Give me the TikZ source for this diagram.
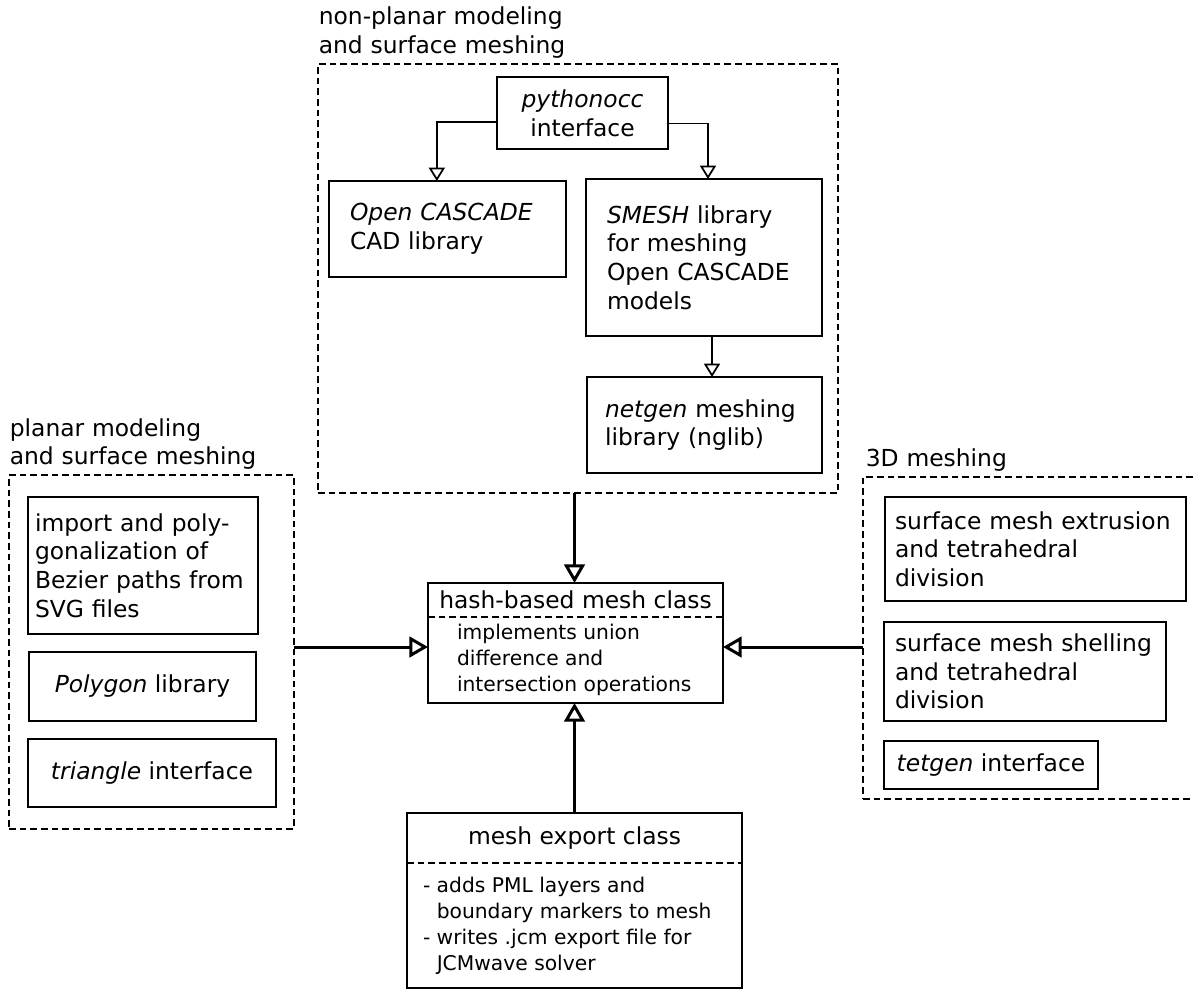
\documentclass[tikz,border=0pt]{standalone}
\usepackage{fontspec}
\setmainfont{DejaVu Sans}
\usetikzlibrary{arrows.meta}

\newcommand{\boxfont}{\fontsize{17.55pt}{21.5pt}\selectfont}
\newcommand{\notefont}{\fontsize{15.2pt}{19.5pt}\selectfont}

\tikzset{every picture/.style={line width=1.2pt}}
\tikzset{
  grp/.style={draw, line width=1pt, dash pattern=on 5pt off 3pt, anchor=north west, inner sep=0pt, outer sep=0pt},
  blk/.style={draw, anchor=north west, align=left, inner ysep=0pt, outer sep=0pt, font=\boxfont},
  cblk/.style={draw, anchor=north west, align=center, inner sep=0pt, outer sep=0pt, font=\boxfont},
  head/.style={anchor=north west, inner sep=0pt, outer sep=0pt, font=\boxfont},
  body/.style={anchor=north west, align=left, inner ysep=0pt, outer sep=0pt, font=\notefont},
  lbl/.style={anchor=base west, align=left, inner sep=0pt, text width=240pt, font=\boxfont},
  conn/.style={line width=1.3pt, -{Triangle[open, length=10pt, width=12pt]}},
  bigconn/.style={line width=2.25pt, -{Triangle[open, length=14pt, width=15.5pt]}},
}

\begin{document}
\begin{tikzpicture}[x=0.75pt,y=0.75pt,yscale=-1,xscale=1]
\useasboundingbox (0,0) rectangle (1194,991);

%Shape: Group frames
\node[grp, minimum width=390pt, minimum height=321.75pt] (topgrp) at (318,64) {};
\node[grp, minimum width=213.75pt, minimum height=265.5pt] (leftgrp) at (9,475) {};
\node[grp, minimum width=255pt, minimum height=241.5pt] (rightgrp) at (863,477) {};

% Text Node
\node[lbl] (toplbl) at (318,25) {non-planar modeling\\and surface meshing};
% Text Node
\node[lbl] (leftlbl) at (9,436) {planar modeling\\and surface meshing};
% Text Node
\node[lbl] (rightlbl) at (865,466) {3D meshing};

%Shape: Rectangle
\node[cblk, minimum width=128.25pt, minimum height=54pt] (pyocc) at (497,77) {\textit{pythonocc}\\interface};
%Shape: Rectangle
\node[blk, minimum width=177.75pt, minimum height=72pt, inner xsep=15.75pt, text width=146.25pt] (occ) at (329,181) {\textit{Open CASCADE}\\CAD library};
%Shape: Rectangle
\node[blk, minimum width=177pt, minimum height=117.75pt, inner xsep=15.75pt, text width=145.5pt] (smesh) at (586,179) {\textit{SMESH} library\\for meshing\\Open CASCADE\\models};
%Shape: Rectangle
\node[blk, minimum width=176.25pt, minimum height=72pt, inner xsep=13.5pt, text width=149.25pt] (netgen) at (587,377) {\textit{netgen} meshing\\library (nglib)};

%Shape: Rectangle
\node[blk, minimum width=172.5pt, minimum height=102.75pt, inner xsep=5.25pt, text width=162pt] (svgimp) at (28,497) {import and poly-\\gonalization of\\Bezier paths from\\SVG files};
%Shape: Rectangle
\node[cblk, minimum width=170.25pt, minimum height=51.75pt] (polylib) at (29,652) {\textit{Polygon} library};
%Shape: Rectangle
\node[cblk, minimum width=186pt, minimum height=51pt] (tri) at (28,739) {\textit{triangle} interface};

%Shape: Rectangle
\node[blk, minimum width=225.75pt, minimum height=78pt, inner xsep=7.5pt, text width=210.75pt] (extr) at (885,497) {surface mesh extrusion\\and tetrahedral\\division};
%Shape: Rectangle
\node[blk, minimum width=211.5pt, minimum height=74.25pt, inner xsep=8.25pt, text width=195pt] (shell) at (884,622) {surface mesh shelling\\and tetrahedral\\division};
%Shape: Rectangle
\node[cblk, minimum width=160.5pt, minimum height=36pt] (tetgen) at (884,741) {\textit{tetgen} interface};

%Shape: Class box (hash)
\node[head, minimum width=221.25pt, minimum height=25.5pt] (hashhd) at (428,583) {hash-based mesh class};
\node[body, inner xsep=21.75pt, minimum height=64.5pt] (hashbd) at (hashhd.south west) {implements union\\difference and\\intersection operations};
\draw (hashhd.north west) rectangle (hashhd.east |- hashbd.south);
\draw[line width=1pt, dash pattern=on 5pt off 3pt] (hashhd.south west) -- (hashhd.south east);

%Shape: Class box (export)
\node[head, minimum width=251.25pt, minimum height=37.5pt] (expthd) at (407,813) {mesh export class};
\node[body, inner xsep=12pt, minimum height=93.75pt] (exptbd) at (expthd.south west) {- adds PML layers and\\\phantom{- }boundary markers to mesh\\- writes .jcm export file for\\\phantom{- }JCMwave solver};
\draw (expthd.north west) rectangle (expthd.east |- exptbd.south);
\draw[line width=1pt, dash pattern=on 5pt off 3pt] (expthd.south west) -- (expthd.south east);

%Straight Lines
\coordinate (lvl) at (0,647);
\draw[conn] (pyocc.186) -| ([xshift=-8pt]occ.north);
\draw[conn] (pyocc.353) -| ([xshift=3pt]smesh.north);
\draw[conn] ([xshift=6pt]smesh.south) -- ([xshift=6pt]smesh.south |- netgen.north);
\draw[bigconn] (expthd.north |- topgrp.south) -- (expthd.north |- hashhd.north);
\draw[bigconn] (leftgrp.east |- lvl) -- (hashhd.west |- lvl);
\draw[bigconn] (rightgrp.west |- lvl) -- (hashhd.east |- lvl);
\draw[bigconn] (expthd.north) -- (expthd.north |- hashbd.south);

\end{tikzpicture}
\end{document}
